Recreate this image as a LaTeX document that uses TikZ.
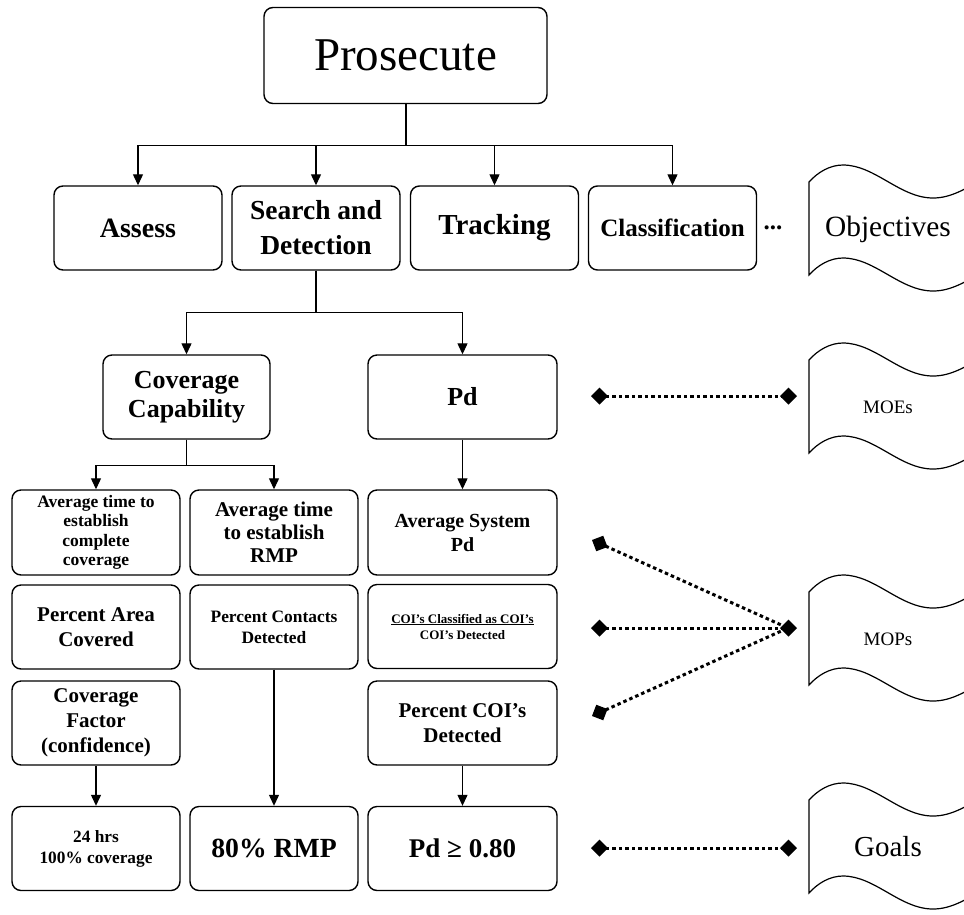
\documentclass[tikz,border=0pt]{standalone}
\usepackage{fontspec}
\setmainfont{Liberation Serif}
\usetikzlibrary{arrows.meta}

\newcommand{\fsz}[2]{\fontsize{#1}{#2}\selectfont}
\newcommand{\FlagDoc}[4]{% top y, name, text, size
    \begin{scope}[shift={(0,#1)}]
        \draw[line width=1.2pt] (809,0) .. controls (818,-10) and (830,-17) .. (843,-17)
            .. controls (875,-17) and (900,16) .. (933,16)
            .. controls (950,16) and (965,8) .. (990,-8)
            -- (990,85) .. controls (965,101) and (950,109) .. (933,109)
            .. controls (900,109) and (875,76) .. (843,76)
            .. controls (830,76) and (818,83) .. (809,93) -- cycle;
        \node[font=\fsz{#4}{#4}] (#2) at (888,47) {#3};
    \end{scope}
}

\begin{document}
\begin{tikzpicture}[x=1pt,y=-1pt,
    box/.style={draw, line width=1.4pt, rounded corners=9pt, minimum width=168pt,
        minimum height=84pt, inner sep=0pt, align=center},
    widebox/.style={box, minimum width=189pt},
    arr/.style={-{Triangle[length=11pt,width=10pt]}, line width=1.2pt},
    dotlink/.style={line width=3pt, dash pattern=on 3.5pt off 3pt,
        {Diamond[length=17pt,width=17pt]}-{Diamond[length=17pt,width=17pt]}},
    halflink/.style={line width=3pt, dash pattern=on 3.5pt off 3pt,
        {Diamond[length=17pt,width=17pt]}-}]
    \useasboundingbox (0,0) rectangle (964,914);

    % tree
    \node[box, minimum width=283pt, minimum height=96pt, font=\fsz{47}{50}] (pros) at (405.5,55.5) {Prosecute};

    \node[box, font=\bfseries\fsz{28}{34}] (assess) at (138,228) {Assess};
    \node[box, font=\bfseries\fsz{27.5}{35}] (search) at (316,228) {Search and\\Detection};
    \node[box, font=\bfseries\fsz{29}{34}] (track) at (494.5,228) {Tracking};
    \node[box, font=\bfseries\fsz{25}{30}] (classif) at (672.5,228) {Classification};
    \node[font=\bfseries\fsz{25}{30}, inner sep=0pt] (more) at (773,228) {...};

    \node[box, minimum width=167pt, font=\bfseries\fsz{26}{29}] (cov) at (186.5,397) {Coverage\\Capability};
    \node[widebox, font=\bfseries\fsz{26}{29}] (pd) at (462.5,397) {Pd};

    \node[box, minimum height=85pt, font=\bfseries\fsz{17.5}{19.5}] (avgcomp) at (96,532.5) {Average time to\\establish\\complete\\coverage};
    \node[box, minimum height=85pt, font=\bfseries\fsz{21}{23}] (avgrmp) at (274,532.5) {Average time\\to establish\\RMP};
    \node[widebox, minimum height=85pt, font=\bfseries\fsz{20}{24}] (avgsys) at (462.5,532.5) {Average System\\Pd};

    \node[box, font=\bfseries\fsz{21}{25}] (pctarea) at (96,627) {Percent Area\\Covered};
    \node[box, font=\bfseries\fsz{17.4}{21}] (pctcont) at (274,627) {Percent Contacts\\Detected};
    \node[widebox, font=\bfseries\fsz{13}{16}] (coi) at (462.5,626.5) {\underline{COI’s Classified as COI’s}\\COI’s Detected};

    \node[box, font=\bfseries\fsz{21}{25}] (covfac) at (96,723) {Coverage\\Factor\\(confidence)};
    \node[widebox, font=\bfseries\fsz{21}{25}] (pctcoi) at (462.5,723) {Percent COI’s\\Detected};

    \node[box, font=\bfseries\fsz{17.3}{21}] (hrs) at (96,848.5) {24 hrs\\100\% coverage};
    \node[box, font=\bfseries\fsz{27.7}{32}] (rmp) at (274,848.5) {80\% RMP};
    \node[widebox, font=\bfseries\fsz{27}{32}] (pdgoal) at (462.5,848.5) {Pd ≥ 0.80};

    \draw[line width=2pt] (pros.south) -- ++(0,41);
    \foreach \n in {assess,search,track,classif}
        \draw[arr] (pros.south) ++(0,41) -| (\n.north);
    \foreach \n in {cov,pd}
        \draw[arr] (search.south) -- ++(0,42) -| (\n.north);
    \foreach \n in {avgcomp,avgrmp}
        \draw[arr] (cov.south) -- ++(0,26) -| (\n.north);
    \draw[arr] (pd.south) -- (avgsys.north);
    \draw[arr] (covfac.south) -- (hrs.north);
    \draw[arr] (pctcont.south) -- (rmp.north);
    \draw[arr] (pctcoi.south) -- (pdgoal.north);

    % flags on the right
    \begin{scope}
        \clip (0,0) rectangle (964,914);
        \FlagDoc{182}{objflag}{Objectives}{29.4}
        \FlagDoc{360}{moeflag}{MOEs}{19}
        \FlagDoc{592}{mopflag}{MOPs}{19}
        \FlagDoc{800}{goalflag}{Goals}{29}
    \end{scope}

    \coordinate (moeL) at (591,396);
    \coordinate (moeR) at (797,396);
    \coordinate (mopA) at (592,540);
    \coordinate (mopB) at (591,628);
    \coordinate (mopC) at (592,716);
    \coordinate (mopR) at (797,628);
    \coordinate (mopM) at (788,628);
    \coordinate (goalL) at (591,848);
    \coordinate (goalR) at (797,848);

    \draw[dotlink] (moeL) -- (moeR);
    \draw[halflink] (mopA) -- (mopM);
    \draw[dotlink] (mopB) -- (mopR);
    \draw[halflink] (mopC) -- (mopM);
    \draw[dotlink] (goalL) -- (goalR);
\end{tikzpicture}
\end{document}
